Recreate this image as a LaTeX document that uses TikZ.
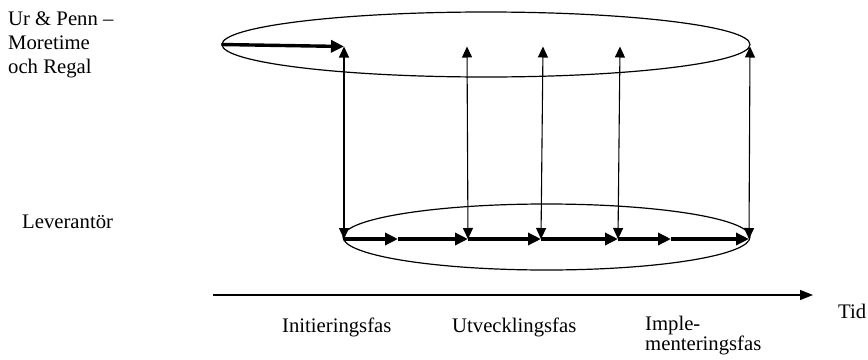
\documentclass[tikz,border=0pt]{standalone}
\usepackage{fontspec}
\setmainfont{Liberation Serif}
\usetikzlibrary{arrows.meta,shapes.geometric}

\begin{document}
\begin{tikzpicture}
[
	x=1pt, y=-1pt,
	fas/.style={ellipse,draw,line width=1.2pt,inner sep=0pt},
	flow/.style={line width=3.4pt,-{Triangle[length=13pt,width=12pt]}},
	link/.style={line width=1.1pt,{Triangle[length=11pt,width=10pt]}-{Triangle[length=11pt,width=10pt]}},
	label/.style={anchor=base west,inner sep=0pt,align=left,font=\fontsize{20.7}{24}\selectfont}
]
	\useasboundingbox (0,0) rectangle (868,359);

	% ellipses
	\node[fas,minimum width=528pt,minimum height=65pt] (kund) at (486,44.5) {};
	\node[fas,minimum width=407pt,minimum height=66pt] (lev) at (546.5,237) {};

	% points on the two levels
	\coordinate (u1) at (344,46.5);
	\coordinate (u2) at (467,46.5);
	\coordinate (u3) at (543,46.5);
	\coordinate (u4) at (620,46.5);
	\coordinate (u5) at (750,46.5);
	\coordinate (l1) at (344,239);
	\coordinate (m1) at (398,239);
	\coordinate (l2) at (468,239);
	\coordinate (l3) at (541,239);
	\coordinate (l4) at (618,239);
	\coordinate (m2) at (671,239);
	\coordinate (l5) at (749,239);

	% thick flows
	\draw[flow] (kund.west) -- (u1);
	\draw[flow] (l1) -- (m1);
	\draw[flow] (m1) -- (l2);
	\draw[flow] (l2) -- (l3);
	\draw[flow] (l3) -- (l4);
	\draw[flow] (l4) -- (m2);
	\draw[flow] (m2) -- (l5);

	% links between levels
	\foreach \i in {1,...,5}
		\draw[link] (u\i) -- (l\i);

	% time axis
	\coordinate (t0) at (213,295);
	\coordinate (t1) at (813,295);
	\draw[line width=1.2pt,-{Triangle[length=13pt,width=10pt]}] (t0) -- (t1);

	% labels (base = last line)
	\node[label] (urpenn) at (8,73) {Ur \& Penn –\\Moretime\\och Regal};
	\node[label] (leverantor) at (22,228) {Leverantör};
	\node[label] (tid) at (838,318) {Tid};
	\node[label] (init) at (282,332) {Initieringsfas};
	\node[label] (utv) at (452,332) {Utvecklingsfas};
	\node[label,font=\fontsize{20.7}{18}\selectfont] (impl) at (645,350) {Imple-\\menteringsfas};

\end{tikzpicture}
\end{document}
